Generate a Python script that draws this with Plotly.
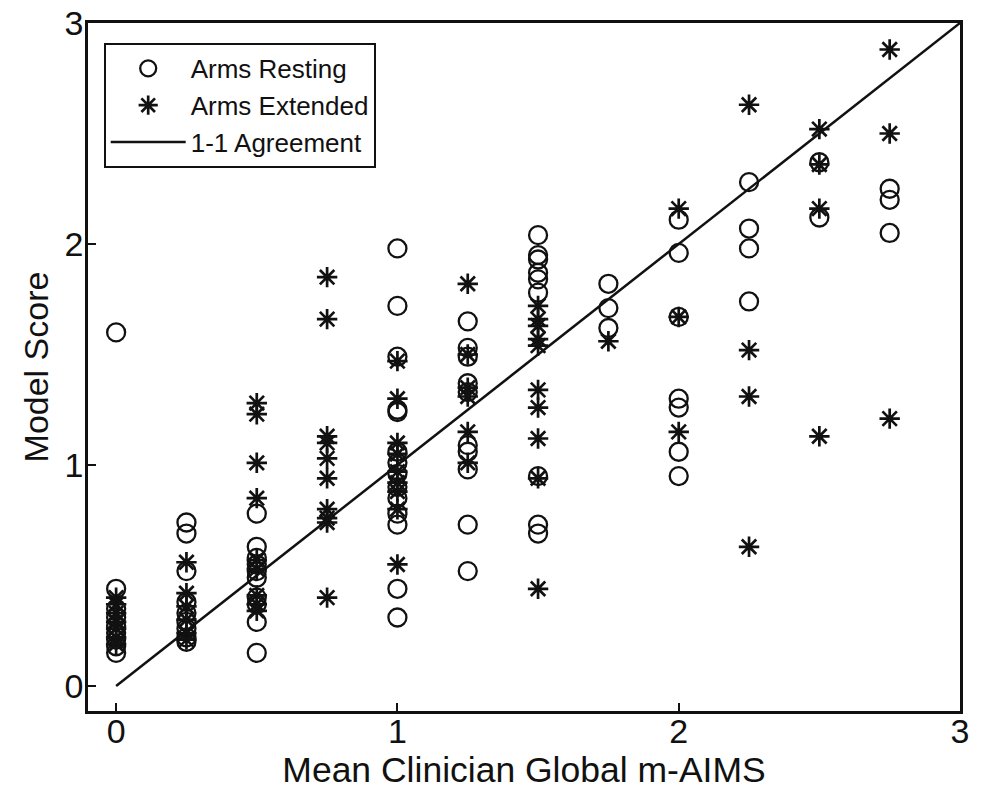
import plotly.graph_objects as go

# Arms Resting (open circles)
resting_x = ([0.0] * 9 + [0.25] * 9 + [0.5] * 10 + [1.0] * 14 + [1.25] * 10 +
             [1.5] * 9 + [1.75] * 3 + [2.0] * 7 + [2.25] * 4 + [2.5] * 2 + [2.75] * 3)
resting_y = [1.60, 0.44, 0.35, 0.31, 0.27, 0.24, 0.21, 0.18, 0.15,
             0.74, 0.69, 0.52, 0.38, 0.33, 0.29, 0.26, 0.22, 0.20,
             0.78, 0.63, 0.58, 0.55, 0.52, 0.49, 0.40, 0.37, 0.29, 0.15,
             1.98, 1.72, 1.49, 1.25, 1.24, 1.06, 1.01, 0.96, 0.90, 0.85, 0.78, 0.73, 0.44, 0.31,
             1.65, 1.53, 1.49, 1.37, 1.33, 1.09, 1.06, 0.98, 0.73, 0.52,
             2.04, 1.95, 1.93, 1.87, 1.84, 1.78, 0.95, 0.73, 0.69,
             1.82, 1.71, 1.62,
             2.11, 1.96, 1.67, 1.30, 1.26, 1.06, 0.95,
             2.28, 2.07, 1.98, 1.74,
             2.37, 2.12,
             2.25, 2.20, 2.05]

# Arms Extended (asterisks)
extended_x = ([0.0] * 7 + [0.25] * 6 + [0.5] * 9 + [0.75] * 10 + [1.0] * 9 + [1.25] * 6 +
              [1.5] * 10 + [1.75] * 1 + [2.0] * 3 + [2.25] * 4 + [2.5] * 4 + [2.75] * 3)
extended_y = [0.40, 0.37, 0.33, 0.29, 0.26, 0.22, 0.19,
              0.56, 0.42, 0.36, 0.30, 0.24, 0.21,
              1.28, 1.23, 1.01, 0.85, 0.57, 0.53, 0.41, 0.37, 0.34,
              1.85, 1.66, 1.13, 1.10, 1.03, 0.94, 0.80, 0.76, 0.74, 0.40,
              1.47, 1.30, 1.10, 1.05, 0.97, 0.92, 0.88, 0.80, 0.55,
              1.82, 1.50, 1.35, 1.31, 1.15, 1.01,
              1.72, 1.66, 1.63, 1.57, 1.54, 1.34, 1.26, 1.12, 0.94, 0.44,
              1.56,
              2.16, 1.67, 1.15,
              2.63, 1.52, 1.31, 0.63,
              2.52, 2.36, 2.16, 1.13,
              2.88, 2.50, 1.21]

# 1-1 agreement line
agree_x = [0, 3]
agree_y = [0, 3]

tick_vals = [0, 1, 2, 3]
tick_text = ["0", "1", "2", "3"]

FONT = "Liberation Sans, Arial, sans-serif"
INK = "#111111"

fig = go.Figure()
fig.add_trace(go.Scatter(
    x=resting_x, y=resting_y, mode="markers", name="Arms Resting",
    marker=dict(symbol="circle-open", size=18, color=INK, line=dict(width=2.3, color=INK)),
))
fig.add_trace(go.Scatter(
    x=extended_x, y=extended_y, mode="markers", name="Arms Extended",
    marker=dict(symbol="asterisk-open", size=17, color=INK, line=dict(width=2.7, color=INK)),
))
fig.add_trace(go.Scatter(
    x=agree_x, y=agree_y, mode="lines", name="1-1 Agreement",
    line=dict(color=INK, width=2.5),
))

axis_common = dict(
    showgrid=False, zeroline=False, showline=True, linecolor=INK, linewidth=2.5,
    mirror=True, ticks="inside", ticklen=8, tickwidth=2, tickcolor=INK,
    tickvals=tick_vals, ticktext=tick_text, automargin=False,
    ticklabeloverflow="allow",
    tickfont=dict(family=FONT, size=34, color=INK),
)

fig.update_layout(
    width=981, height=793,
    margin=dict(l=88, r=21, t=23, b=82),
    paper_bgcolor="white", plot_bgcolor="white",
    font=dict(family=FONT, color=INK),
    showlegend=True,
    legend=dict(
        x=0.018, y=0.971, xanchor="left", yanchor="top",
        bordercolor=INK, borderwidth=2, bgcolor="white",
        font=dict(family=FONT, size=26, color=INK),
        itemwidth=75, tracegroupgap=0,
    ),
    xaxis=dict(axis_common, range=[-0.1, 3.0], ticklabelstandoff=-12,
               title=dict(text="Mean Clinician Global m-AIMS", font=dict(family=FONT, size=35.5, color=INK), standoff=4)),
    yaxis=dict(axis_common, range=[-0.113, 3.0], ticklabelstandoff=-5,
               title=dict(text="Model Score", font=dict(family=FONT, size=34, color=INK), standoff=6)),
)

fig.write_html(
    "out.html",
    config={"displayModeBar": False},
    post_script="document.body.style.margin='0';document.body.style.overflow='hidden';",
)
